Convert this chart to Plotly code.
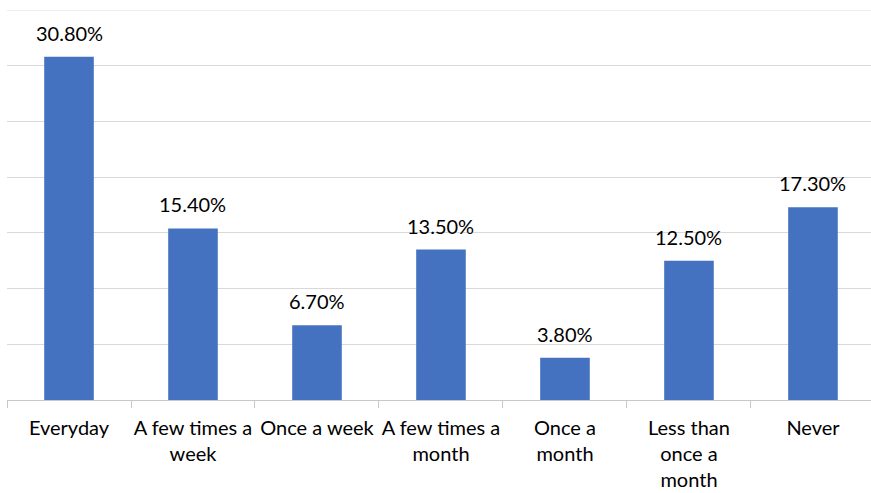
import plotly.graph_objects as go

categories = ["Everyday", "A few times a<br>week", "Once a week", "A few times a<br>month",
              "Once a<br>month", "Less than<br>once a<br>month", "Never"]
values = [30.8, 15.4, 6.7, 13.5, 3.8, 12.5, 17.3]
labels = [f"{v:.2f}%" for v in values]
y_max = 35

FONT = "Lato, Calibri, sans-serif"

fig = go.Figure(go.Bar(
    x=categories, y=values,
    marker=dict(color="#4572C0", line=dict(color="#4572C0", width=0)),
    cliponaxis=False,
))

for c, v, t in zip(categories, values, labels):
    fig.add_annotation(x=c, y=v, text=t, showarrow=False, yanchor="bottom",
                       yshift=10, font=dict(family=FONT, size=20, color="#000000"))

# top gridline (plotly omits grid at the plot edge)
fig.add_shape(type="line", xref="paper", yref="y", x0=0, x1=1, y0=y_max, y1=y_max,
              line=dict(color="#d9d9d9", width=1), layer="below")

fig.update_layout(
    width=871, height=493,
    margin=dict(l=7, r=0, t=10, b=93),
    paper_bgcolor="white", plot_bgcolor="white",
    bargap=0.6, showlegend=False,
    font=dict(family=FONT, size=20, color="#000000"),
)
fig.update_xaxes(
    range=[-0.5, 6.468], showline=True, linecolor="#c8c8c8", linewidth=1,
    ticks="outside", tickson="boundaries", tickcolor="#c8c8c8", ticklen=7,
    tickangle=0, showgrid=False, ticklabelstandoff=10,
)
fig.update_yaxes(
    range=[0, y_max], dtick=5, showticklabels=False, showgrid=True,
    gridcolor="#d9d9d9", gridwidth=1, zeroline=False, showline=False,
)

fig.write_html("out.html")
